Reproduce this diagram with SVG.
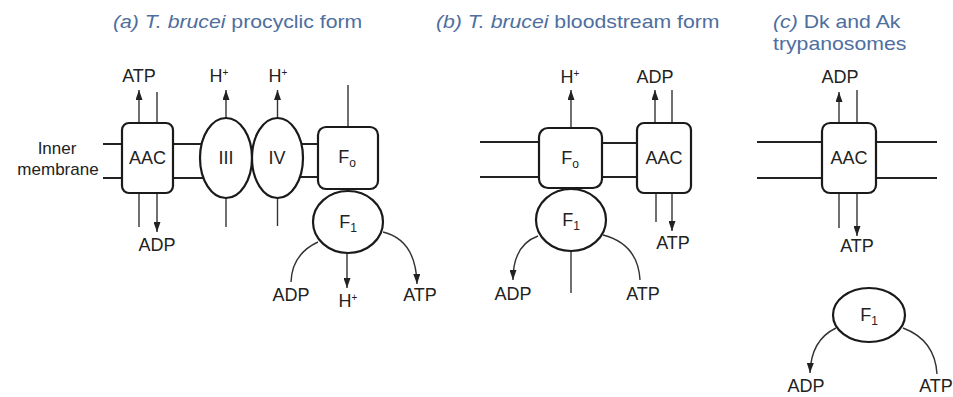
<svg xmlns="http://www.w3.org/2000/svg" width="953" height="397" viewBox="0 0 953 397">
<defs>
<style>
.title{font-family:"Liberation Sans",Arial,sans-serif;font-size:18px;fill:#4e6e9e}
.lbl{font-family:"Liberation Sans",Arial,sans-serif;font-size:18px;fill:#222;text-anchor:middle}
.mlbl{font-family:"Liberation Sans",Arial,sans-serif;font-size:17px;fill:#222;text-anchor:middle}
.sup{font-size:10px}
.sub{font-size:12px}
.box{fill:#fff;stroke:#1a1a1a;stroke-width:2.2}
.mem{stroke:#222;stroke-width:2;fill:none}
.ln{stroke:#333;stroke-width:1.4;fill:none}
.arr{stroke:#333;stroke-width:1.4;fill:none;marker-end:url(#ah)}
</style>
<marker id="ah" viewBox="0 0 10 7" refX="10" refY="3.5" markerWidth="10" markerHeight="7" markerUnits="userSpaceOnUse" orient="auto">
<path d="M0,0 L10,3.5 L0,7 z" fill="#222"/>
</marker>
</defs>
<rect width="953" height="397" fill="#fff"/>

<g id="titles">
<text class="title" transform="translate(113,28) scale(1.18,1)"><tspan font-style="italic">(a) T. brucei</tspan> procyclic form</text>
<text class="title" transform="translate(436,28) scale(1.18,1)"><tspan font-style="italic">(b) T. brucei</tspan> bloodstream form</text>
<text class="title" transform="translate(773,28) scale(1.18,1)"><tspan font-style="italic">(c)</tspan> Dk and Ak</text>
<text class="title" transform="translate(773,50) scale(1.18,1)">trypanosomes</text>
</g>

<g id="connectors">
<line class="mem" x1="103" y1="144" x2="122" y2="144"/>
<line class="mem" x1="103" y1="178" x2="122" y2="178"/>
<line class="mem" x1="173" y1="144" x2="210" y2="144"/>
<line class="mem" x1="173" y1="178" x2="210" y2="178"/>
<line class="mem" x1="295" y1="144" x2="318" y2="144"/>
<line class="mem" x1="295" y1="177" x2="318" y2="177"/>
<line class="arr" x1="139" y1="123" x2="139" y2="90"/>
<line class="ln" x1="157" y1="123" x2="157" y2="92"/>
<line class="ln" x1="139" y1="193" x2="139" y2="227"/>
<line class="arr" x1="157" y1="193" x2="157" y2="232"/>
<line class="arr" x1="226" y1="118" x2="226" y2="90"/>
<line class="ln" x1="226" y1="198" x2="226" y2="227"/>
<line class="arr" x1="277.5" y1="118" x2="277.5" y2="90"/>
<line class="ln" x1="277.5" y1="198" x2="277.5" y2="226"/>
<line class="ln" x1="348" y1="85" x2="348" y2="127"/>
<line class="arr" x1="347" y1="253" x2="347" y2="288"/>
<path class="ln" d="M318,242 Q292,254 291,282"/>
<path class="arr" d="M383,232 Q416,240 417,284"/>

<line class="mem" x1="480" y1="142" x2="539" y2="142"/>
<line class="mem" x1="480" y1="177" x2="539" y2="177"/>
<line class="mem" x1="602" y1="143" x2="637" y2="143"/>
<line class="mem" x1="602" y1="177" x2="637" y2="177"/>
<line class="arr" x1="571" y1="128" x2="571" y2="90"/>
<line class="arr" x1="655" y1="123" x2="655" y2="90"/>
<line class="ln" x1="672" y1="123" x2="672" y2="90"/>
<line class="ln" x1="656" y1="193" x2="656" y2="222"/>
<line class="arr" x1="672" y1="193" x2="672" y2="231"/>
<line class="ln" x1="571" y1="251" x2="571" y2="293"/>
<path class="arr" d="M538,236 Q513,245 513,280"/>
<path class="ln" d="M603,235 Q638,244 640,280"/>

<line class="mem" x1="757" y1="142" x2="822" y2="142"/>
<line class="mem" x1="757" y1="178" x2="822" y2="178"/>
<line class="mem" x1="876" y1="142" x2="937" y2="142"/>
<line class="mem" x1="876" y1="178" x2="937" y2="178"/>
<line class="arr" x1="839" y1="123" x2="839" y2="92"/>
<line class="ln" x1="857" y1="123" x2="857" y2="90"/>
<line class="ln" x1="839" y1="193" x2="839" y2="228"/>
<line class="arr" x1="857" y1="193" x2="857" y2="236"/>
<path class="arr" d="M836,328 Q811,340 810,373"/>
<path class="ln" d="M903,328 Q935,340 937,374"/>
</g>

<g id="a-inner-membrane-label">
<text class="mlbl" x="57" y="154">Inner</text>
<text class="mlbl" x="58" y="175">membrane</text>
</g>

<g id="a-AAC">
<rect class="box" x="122" y="123" width="51" height="70" rx="7"/>
<text class="lbl" x="147.5" y="164">AAC</text>
</g>
<g id="a-III">
<ellipse class="box" cx="226" cy="158" rx="26" ry="40"/>
<text class="lbl" x="226" y="164">III</text>
</g>
<g id="a-IV">
<ellipse class="box" cx="277.5" cy="158" rx="25.5" ry="40"/>
<text class="lbl" x="277" y="164">IV</text>
</g>
<g id="a-Fo">
<rect class="box" x="318" y="127" width="60" height="62" rx="8"/>
<text class="lbl" x="347" y="163">F<tspan class="sub" dy="4">o</tspan></text>
</g>
<g id="a-F1">
<ellipse class="box" cx="348" cy="222" rx="35" ry="31"/>
<text class="lbl" x="348" y="228">F<tspan class="sub" dy="4">1</tspan></text>
</g>

<g id="b-Fo">
<rect class="box" x="539" y="128" width="63" height="60" rx="9"/>
<text class="lbl" x="570" y="164">F<tspan class="sub" dy="4">o</tspan></text>
</g>
<g id="b-AAC">
<rect class="box" x="637" y="123" width="54" height="70" rx="7"/>
<text class="lbl" x="664" y="164">AAC</text>
</g>
<g id="b-F1">
<ellipse class="box" cx="571" cy="220" rx="35" ry="31"/>
<text class="lbl" x="571" y="226">F<tspan class="sub" dy="4">1</tspan></text>
</g>

<g id="c-AAC">
<rect class="box" x="822" y="123" width="54" height="70" rx="8"/>
<text class="lbl" x="849" y="164">AAC</text>
</g>
<g id="c-F1">
<ellipse class="box" cx="869" cy="315" rx="36" ry="27"/>
<text class="lbl" x="869" y="321">F<tspan class="sub" dy="4">1</tspan></text>
</g>

<g id="labels">
<text class="lbl" x="139" y="82">ATP</text>
<text class="lbl" x="219" y="82">H<tspan class="sup" dy="-6">+</tspan></text>
<text class="lbl" x="278" y="82">H<tspan class="sup" dy="-6">+</tspan></text>
<text class="lbl" x="157" y="251">ADP</text>
<text class="lbl" x="291" y="301">ADP</text>
<text class="lbl" x="348" y="307">H<tspan class="sup" dy="-6">+</tspan></text>
<text class="lbl" x="420" y="301">ATP</text>

<text class="lbl" x="570" y="83">H<tspan class="sup" dy="-6">+</tspan></text>
<text class="lbl" x="655" y="83">ADP</text>
<text class="lbl" x="673" y="249">ATP</text>
<text class="lbl" x="513" y="300">ADP</text>
<text class="lbl" x="643" y="300">ATP</text>

<text class="lbl" x="840" y="83">ADP</text>
<text class="lbl" x="857" y="252">ATP</text>
<text class="lbl" x="806" y="392">ADP</text>
<text class="lbl" x="936" y="392">ATP</text>
</g>
</svg>
